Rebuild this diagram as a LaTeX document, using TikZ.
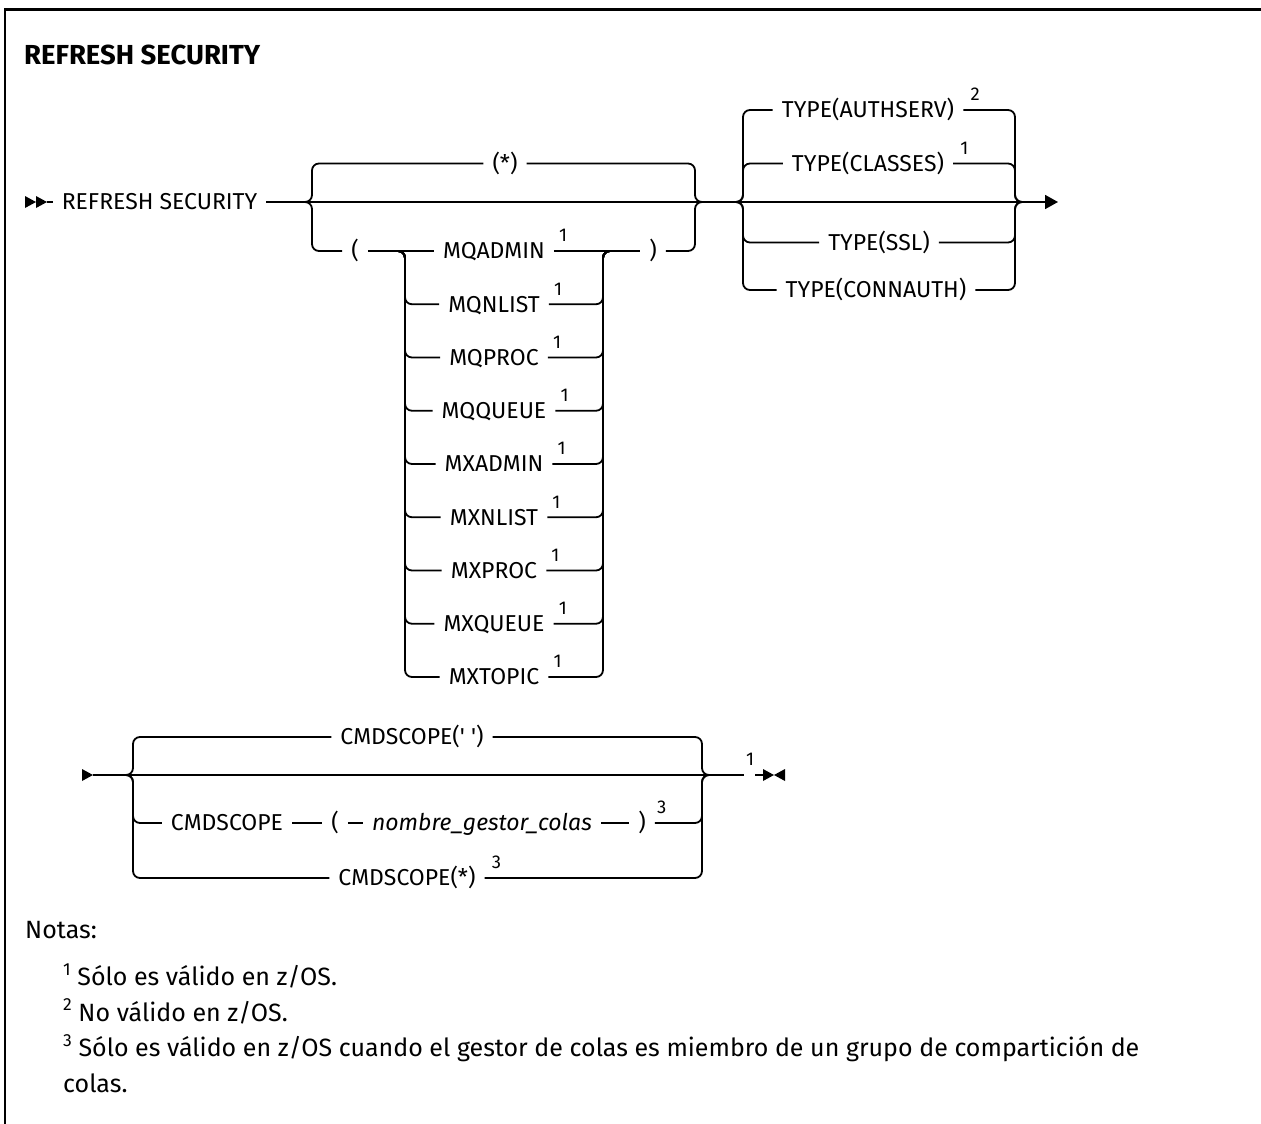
\documentclass[tikz,border=0pt]{standalone}
\usepackage{fontspec}
\setmainfont{Fira Sans}
\newfontfamily\diagfam{Fira Sans}
\usetikzlibrary{arrows.meta}
\newcommand\dfont{\diagfam\fontsize{23}{26}\selectfont}
\newcommand\supfont{\diagfam\fontsize{18.5}{18.5}\selectfont}
\newcommand\nfont{\fontsize{25}{30}\selectfont}
\newcommand\tfont{\bfseries\fontsize{27.5}{30}\selectfont}
\newcommand\nsup[1]{\raisebox{0.42em}{\fontsize{17.5}{17.5}\selectfont #1}}
\begin{document}
\begin{tikzpicture}[x=1pt,y=-1pt,
  ln/.style={line width=1.8pt},
  br/.style={line width=1.8pt, rounded corners=7pt},
  lbl/.style={font=\dfont, inner xsep=9pt, inner ysep=0pt, text height=15.8pt, text depth=0pt},
  sup/.style={font=\supfont, inner sep=0pt, anchor=south west},
  note/.style={font=\nfont, inner sep=0pt, anchor=base west}]
\useasboundingbox (0,0) rectangle (1261,1124);
% frame
\draw[line width=2.5pt] (5,1124) -- (5,9.5) -- (1261,9.5);
% title
\node[anchor=base west, font=\tfont, inner sep=0pt] (title) at (24,65) {REFRESH SECURITY};

% ---------- first line (main y = 202) ----------
\fill (25,196) -- (36,202) -- (25,208) -- cycle;
\fill (36,196) -- (47,202) -- (36,208) -- cycle;
\node[lbl] (rs) at (159.5,202) {REFRESH SECURITY};
\draw[ln] (47,202) -- (rs.west);
\draw[ln, -{Triangle[length=13pt,width=14pt]}] (rs.east) -- (1058,202);

% group 1  (L=312, R=695)
\node[lbl] (star) at (505,163.5) {(*)};
\draw[br] (304,202) -| (312,163.5) -- (star.west);
\draw[br] (star.east) -- (695,163.5) |- (703,202);
\node[lbl] (lp) at (355,251) {(};
\node[lbl] (rp) at (653,251) {)};
\draw[br] (304,202) -| (312,251) -- (lp.west);
\draw[br] (rp.east) -- (695,251) |- (703,202);

% inner list (IL=405, IR=603)
\node[lbl] (k0) at (494,251) {MQADMIN};
\node[sup] at ([xshift=5pt,yshift=9pt]k0.east) {1};
\draw[ln] (lp.east) -- (k0.west);
\draw[ln] (k0.east) -- (rp.west);
\foreach \i/\t in {1/MQNLIST,2/MQPROC,3/MQQUEUE,4/MXADMIN,5/MXNLIST,6/MXPROC,7/MXQUEUE,8/MXTOPIC}{
  \pgfmathsetmacro\yy{251+53.25*\i}
  \node[lbl] (k\i) at (494,\yy) {\t};
  \node[sup] (s\i) at ([xshift=5pt,yshift=9pt]k\i.east) {1};
  \draw[br] (397,251) -| (405,\yy) -- (k\i.west);
  \draw[br] (k\i.east) -- (603,\yy) |- (611,251);
}

% group 2 (TYPE)  (L=743, R=1015)
\node[lbl] (ta) at (868,110) {TYPE(AUTHSERV)};
\node[sup] at ([xshift=7pt,yshift=9pt]ta.east) {2};
\node[lbl] (tc) at (868,163.5) {TYPE(CLASSES)};
\node[sup] at ([xshift=7pt,yshift=9pt]tc.east) {1};
\node[lbl] (ts) at (879,242.5) {TYPE(SSL)};
\node[lbl] (tn) at (876,290) {TYPE(CONNAUTH)};
\foreach \n/\yy in {ta/110,tc/163.5,ts/242.5,tn/290}{
  \draw[br] (735,202) -| (743,\yy) -- (\n.west);
  \draw[br] (\n.east) -- (1015,\yy) |- (1023,202);
}

% ---------- second line (main y = 775) ----------
\fill (82,769) -- (93,775) -- (82,781) -- cycle;
\node[sup, anchor=south] (e1) at (750,766) {1};
\draw[ln] (93,775) -- (744,775);
\draw[ln] (755,775) -- (763,775);
\fill (763,769) -- (774,775) -- (763,781) -- cycle;
\fill (785,769) -- (774,775) -- (785,781) -- cycle;

\node[lbl] (cs) at (412,737) {CMDSCOPE(\textquotesingle\ \textquotesingle)};
\draw[br] (125,775) -| (133,737) -- (cs.west);
\draw[br] (cs.east) -- (702,737) |- (710,775);

\node[lbl] (c1) at (227,823) {CMDSCOPE};
\node[lbl] (c2) at (335,823) {(};
\node[lbl, font=\dfont\itshape] (c3) at (482,823) {nombre\_gestor\_colas};
\node[lbl] (c4) at (642,823) {)};
\node[sup] at ([xshift=2pt,yshift=9pt]c4.east) {3};
\draw[br] (125,775) -| (133,823) -- (c1.west);
\draw[ln] (c1.east) -- (c2.west);
\draw[ln] (c2.east) -- (c3.west);
\draw[ln] (c3.east) -- (c4.west);
\draw[br] (c4.east) -- (702,823) |- (710,775);

\node[lbl] (cx) at (407,878) {CMDSCOPE(*)};
\node[sup] at ([xshift=7pt,yshift=9pt]cx.east) {3};
\draw[br] (125,775) -| (133,878) -- (cx.west);
\draw[br] (cx.east) -- (702,878) |- (710,775);

% ---------- notes ----------
\node[note] (notas) at (25,938) {Notas:};
\node[note] (n1) at (63,985.5) {\nsup{1} Sólo es válido en z/OS.};
\node[note] (n2) at (63,1021) {\nsup{2} No válido en z/OS.};
\node[note] (n3) at (63,1056.5) {\nsup{3} Sólo es válido en z/OS cuando el gestor de colas es miembro de un grupo de compartición de};
\node[note] (n4) at (63,1092) {colas.};
\end{tikzpicture}
\end{document}
